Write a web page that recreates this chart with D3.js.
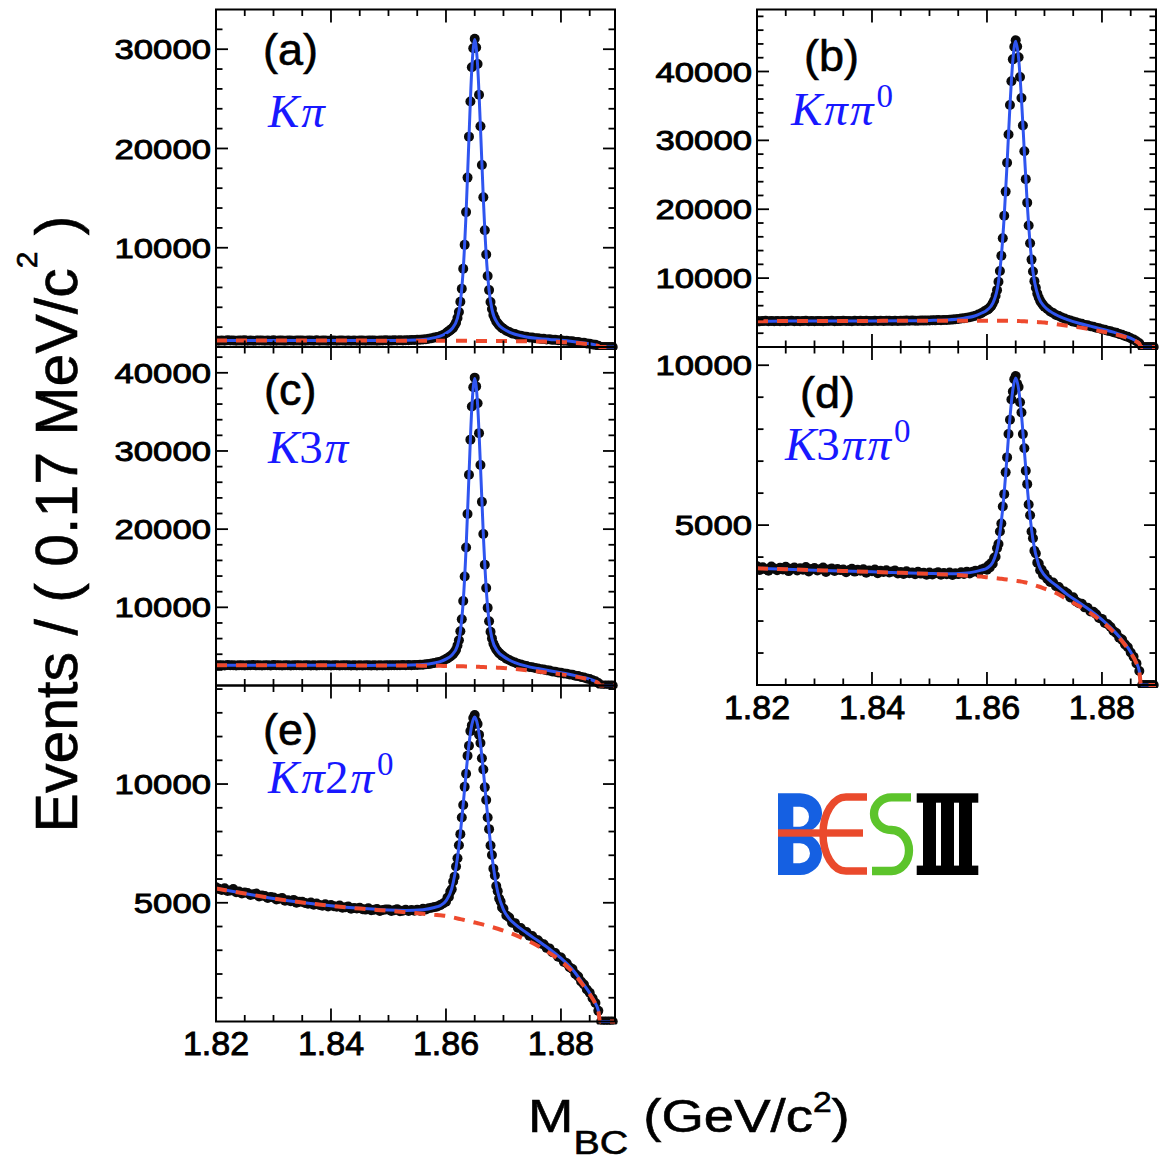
<!DOCTYPE html>
<html>
<head>
<meta charset="utf-8">
<script src="https://cdn.jsdelivr.net/npm/d3@7"></script>
<style>
  html, body { margin: 0; padding: 0; background: #fff; }
  svg { display: block; }
</style>
</head>
<body>
<svg id="chart" width="1167" height="1161"></svg>
<script>
// ---------------------------------------------------------------------------
// M_BC distributions of the five D0 tag modes with fit (signal + background)
// ---------------------------------------------------------------------------

// Histogram bin centres (GeV/c^2): coarse side bands, finer bins over the peak
const massSegments = [
  { start: 1.8200, step: 0.0005,  count: 80 },
  { start: 1.8600, step: 0.00025, count: 40 },
  { start: 1.8700, step: 0.0005,  count: 39 }
];
const mbcBins = massSegments.flatMap(s => d3.range(s.count).map(i => s.start + i * s.step));

// Points at which the fitted curves are tabulated
const fitMass = [1.8200, 1.8250, 1.8300, 1.8350, 1.8400, 1.8450, 1.8500, 1.8530, 1.8560, 1.8580,
  1.8590, 1.8600, 1.8610, 1.8620, 1.8625, 1.8630, 1.8635, 1.8640, 1.8645, 1.8650,
  1.8655, 1.8660, 1.8665, 1.8670, 1.8675, 1.8680, 1.8690, 1.8700, 1.8710, 1.8720,
  1.8740, 1.8760, 1.8780, 1.8800, 1.8820, 1.8840, 1.8850, 1.8860, 1.8865, 1.8868, 1.8894];

const decayModes = ["Kπ", "Kππ0", "K3π", "K3ππ0", "Kπ2π0"];
const panelTags = ["(a)", "(b)", "(c)", "(d)", "(e)"];

// ---- (a) K pi ----
const countsKpi = [
  662, 641, 655, 637, 668, 646, 651, 629, 660, 644,
  673, 639, 652, 630, 658, 647, 664, 636, 650, 642,
  671, 633, 654, 645, 628, 661, 648, 637, 667, 644,
  655, 631, 649, 658, 640, 669, 635, 652, 643, 627,
  659, 646, 638, 665, 650, 634, 657, 641, 662, 629,
  648, 655, 637, 664, 643, 652, 635, 660, 647, 671,
  656, 644, 668, 659, 677, 664, 690, 683, 702, 709,
  731, 738, 766, 793, 831, 874, 948, 1003, 1092, 1218,
  1391, 1486, 1602, 1679, 1825, 1951, 2190, 2455, 2930, 3531,
  4552, 5861, 7874, 10290, 13588, 17064, 21190, 24730, 28180, 30102,
  31050, 30175, 28510, 25410, 22230, 18340, 15080, 11760, 9321, 7150,
  5731, 4540, 3822, 3221, 2885, 2569, 2390, 2188, 2071, 1922,
  1842, 1633, 1519, 1371, 1301, 1189, 1144, 1052, 1028, 961,
  945, 884, 879, 821, 819, 768, 773, 721, 730, 677,
  689, 631, 628, 574, 567, 509, 495, 433, 417, 352,
  327, 258, 216, 121, 0, 0, 0, 0, 0];
const fitKpi = [650, 649, 648, 647, 645, 643, 655, 680, 756, 943,
  1087, 1389, 1812, 2905, 4510, 7810, 13502, 21064, 28046, 30967,
  28397, 22098, 14964, 9250, 5682, 3795, 2372, 1830, 1507, 1285,
  1015, 866, 760, 672, 555, 406, 318, 209, 127, 0, 0];
const bkgKpi = [650, 649, 648, 647, 645, 643, 640, 638, 635, 633,
  632, 630, 628, 626, 625, 623, 622, 620, 619, 617,
  615, 613, 611, 609, 607, 605, 600, 595, 590, 584,
  572, 556, 535, 505, 424, 324, 260, 173, 106, 0, 0];

// ---- (b) K pi pi0 ----
const countsKpipi0 = [
  3771, 3728, 3760, 3795, 3742, 3766, 3733, 3781, 3754, 3790,
  3738, 3769, 3802, 3747, 3776, 3731, 3765, 3798, 3752, 3784,
  3745, 3791, 3760, 3736, 3783, 3770, 3806, 3748, 3779, 3757,
  3801, 3763, 3788, 3749, 3812, 3772, 3795, 3758, 3820, 3781,
  3769, 3807, 3784, 3822, 3775, 3798, 3816, 3779, 3809, 3790,
  3826, 3797, 3833, 3808, 3841, 3819, 3829, 3852, 3834, 3861,
  3849, 3881, 3866, 3902, 3889, 3931, 3925, 3968, 3979, 4031,
  4058, 4129, 4177, 4262, 4309, 4423, 4530, 4716, 4890, 5145,
  5389, 5508, 5731, 5954, 6338, 6762, 7441, 8256, 9476, 11042,
  13250, 15780, 19060, 22560, 26760, 30850, 35140, 38590, 41760, 43590,
  44520, 43620, 42060, 39210, 36140, 32170, 28410, 24370, 20960, 17650,
  15060, 12690, 10970, 9561, 8592, 7752, 7198, 6701, 6389, 6085,
  5851, 5512, 5158, 4933, 4664, 4502, 4281, 4147, 3961, 3851,
  3688, 3594, 3437, 3361, 3211, 3142, 3008, 2935, 2791, 2719,
  2583, 2514, 2375, 2296, 2143, 2051, 1884, 1779, 1598, 1471,
  1269, 1102, 838, 531, 0, 0, 0, 0, 0];
const fitKpipi0 = [3750, 3760, 3770, 3780, 3790, 3812, 3863, 3937, 4185, 4541,
  4898, 5363, 6323, 9438, 13199, 18990, 26671, 35038, 41629, 44380,
  41941, 36027, 28317, 20883, 14999, 10926, 7185, 5868, 5173, 4680,
  3979, 3451, 3024, 2599, 2161, 1607, 1279, 845, 516, 0, 0];
const bkgKpipi0 = [3750, 3760, 3770, 3780, 3790, 3800, 3810, 3815, 3820, 3822,
  3822, 3820, 3818, 3815, 3812, 3810, 3805, 3800, 3790, 3780,
  3765, 3750, 3730, 3705, 3680, 3650, 3600, 3550, 3443, 3332,
  3098, 2846, 2569, 2258, 1898, 1449, 1162, 775, 474, 0, 0];

// ---- (c) K 3pi ----
const countsK3pi = [
  2601, 2575, 2592, 2568, 2610, 2583, 2597, 2571, 2589, 2604,
  2566, 2595, 2580, 2612, 2577, 2590, 2562, 2599, 2585, 2573,
  2608, 2581, 2594, 2567, 2588, 2602, 2570, 2591, 2579, 2606,
  2564, 2587, 2598, 2574, 2593, 2569, 2584, 2600, 2576, 2589,
  2565, 2596, 2580, 2571, 2603, 2578, 2586, 2563, 2592, 2574,
  2584, 2561, 2590, 2577, 2569, 2595, 2573, 2588, 2566, 2592,
  2575, 2593, 2579, 2600, 2586, 2607, 2594, 2618, 2603, 2632,
  2627, 2669, 2662, 2721, 2738, 2816, 2869, 2963, 3041, 3188,
  3381, 3462, 3618, 3715, 3880, 4027, 4291, 4583, 5110, 5788,
  6930, 8472, 10810, 13950, 17650, 21940, 26960, 31450, 35690, 38150,
  39380, 38260, 36100, 32280, 28200, 23490, 19380, 15440, 12470, 9930,
  8220, 6870, 6025, 5360, 4955, 4598, 4372, 4141, 3990, 3817,
  3715, 3441, 3270, 3066, 2951, 2787, 2702, 2561, 2496, 2378,
  2331, 2228, 2182, 2075, 2039, 1942, 1907, 1806, 1771, 1676,
  1641, 1548, 1510, 1414, 1366, 1255, 1203, 1091, 1025, 901,
  819, 671, 546, 318, 0, 0, 0, 0, 0];
const fitK3pi = [2590, 2588, 2585, 2582, 2578, 2572, 2580, 2599, 2676, 2875,
  3046, 3373, 3867, 5086, 6897, 10756, 17571, 26843, 35559, 39255,
  35981, 28087, 19290, 12403, 8183, 6001, 4360, 3702, 3258, 2934,
  2480, 2166, 1891, 1626, 1351, 1012, 807, 535, 327, 0, 0];
const bkgK3pi = [2590, 2588, 2585, 2582, 2578, 2572, 2565, 2555, 2540, 2525,
  2515, 2500, 2485, 2470, 2460, 2450, 2440, 2430, 2420, 2405,
  2392, 2380, 2365, 2350, 2335, 2320, 2285, 2250, 2182, 2112,
  1964, 1805, 1629, 1431, 1203, 918, 736, 491, 301, 0, 0];

// ---- (d) K 3pi pi0 ----
const countsK3pipi0 = [
  3712, 3598, 3681, 3623, 3574, 3702, 3640, 3589, 3668, 3611,
  3695, 3562, 3634, 3671, 3579, 3648, 3606, 3690, 3551, 3627,
  3655, 3583, 3618, 3672, 3537, 3609, 3640, 3568, 3626, 3593,
  3611, 3524, 3589, 3637, 3546, 3602, 3571, 3620, 3509, 3583,
  3556, 3612, 3498, 3570, 3533, 3591, 3517, 3546, 3579, 3489,
  3532, 3475, 3556, 3498, 3521, 3462, 3539, 3483, 3507, 3451,
  3519, 3457, 3493, 3526, 3448, 3501, 3462, 3515, 3439, 3497,
  3468, 3523, 3471, 3545, 3490, 3538, 3572, 3521, 3613, 3640,
  3608, 3734, 3679, 3812, 3791, 3968, 4012, 4277, 4409, 4801,
  5052, 5581, 5968, 6650, 7118, 7852, 8296, 8930, 9178, 9560,
  9662, 9420, 9318, 8840, 8521, 7846, 7402, 6701, 6281, 5644,
  5311, 4798, 4590, 4198, 4112, 3826, 3801, 3589, 3613, 3441,
  3478, 3318, 3221, 3208, 3091, 3064, 2948, 2921, 2859, 2738,
  2744, 2611, 2559, 2540, 2428, 2418, 2302, 2289, 2211, 2097,
  2067, 1938, 1902, 1812, 1689, 1623, 1478, 1420, 1271, 1182,
  1019, 884, 676, 437, 0, 0, 0, 0, 0];
const fitK3pipi0 = [3650, 3620, 3592, 3565, 3538, 3511, 3486, 3477, 3497, 3546,
  3591, 3652, 3834, 4448, 5120, 6018, 7176, 8359, 9234, 9600,
  9255, 8450, 7340, 6213, 5255, 4535, 3754, 3433, 3257, 3120,
  2827, 2580, 2331, 2042, 1708, 1290, 1031, 693, 428, 0, 0];
const bkgK3pipi0 = [3650, 3620, 3592, 3565, 3538, 3508, 3475, 3452, 3425, 3405,
  3390, 3370, 3352, 3332, 3321, 3310, 3298, 3286, 3273, 3260,
  3246, 3232, 3215, 3195, 3170, 3140, 3080, 3015, 2950, 2880,
  2670, 2470, 2250, 1980, 1660, 1260, 1010, 680, 420, 0, 0];

// ---- (e) K pi 2pi0 ----
const countsKpi2pi0 = [
  5652, 5588, 5541, 5612, 5498, 5521, 5583, 5446, 5470, 5392,
  5437, 5412, 5329, 5358, 5391, 5262, 5301, 5285, 5203, 5244,
  5226, 5141, 5172, 5198, 5089, 5110, 5068, 5121, 4998, 5041,
  5046, 4987, 4962, 5009, 4921, 4968, 4903, 4876, 4935, 4842,
  4903, 4851, 4829, 4880, 4792, 4811, 4838, 4745, 4782, 4760,
  4787, 4731, 4712, 4766, 4683, 4709, 4738, 4655, 4692, 4714,
  4721, 4652, 4688, 4731, 4640, 4662, 4709, 4651, 4698, 4662,
  4711, 4669, 4744, 4718, 4772, 4791, 4818, 4842, 4901, 4968,
  5042, 5213, 5241, 5468, 5571, 5896, 6101, 6530, 6874, 7421,
  7890, 8592, 9120, 9881, 10430, 11190, 11610, 12230, 12470, 12780,
  12905, 12640, 12530, 12080, 11730, 11090, 10610, 9860, 9330, 8590,
  8101, 7412, 7010, 6438, 6145, 5708, 5490, 5183, 5052, 4806,
  4752, 4468, 4381, 4163, 4142, 3952, 3938, 3785, 3771, 3612,
  3598, 3452, 3421, 3286, 3248, 3102, 3079, 2921, 2887, 2732,
  2694, 2511, 2456, 2281, 2209, 2004, 1897, 1683, 1561, 1349,
  1210, 978, 781, 448, 0, 0, 0, 0, 0];
const fitKpi2pi0 = [5600, 5390, 5180, 5012, 4873, 4766, 4693, 4678, 4711, 4803,
  4879, 5081, 5593, 6901, 7924, 9156, 10480, 11664, 12501, 12820,
  12486, 11688, 10562, 9284, 8044, 6967, 5455, 4713, 4335, 4103,
  3735, 3397, 3051, 2665, 2187, 1540, 1194, 767, 456, 0, 0];
const bkgKpi2pi0 = [5600, 5390, 5180, 5010, 4870, 4755, 4660, 4600, 4540, 4500,
  4475, 4450, 4395, 4340, 4312, 4284, 4256, 4228, 4199, 4170,
  4140, 4110, 4078, 4046, 4012, 3978, 3905, 3826, 3740, 3645,
  3430, 3180, 2890, 2540, 2090, 1480, 1150, 740, 440, 0, 0];

// Axis tick labels
const yLabelsKpi = [10000, 20000, 30000];
const yLabelsKpipi0 = [10000, 20000, 30000, 40000];
const yLabelsK3pi = [10000, 20000, 30000, 40000];
const yLabelsK3pipi0 = [5000, 10000];
const yLabelsKpi2pi0 = [5000, 10000];
const xLabels = [1.82, 1.84, 1.86, 1.88];
const massRange = [1.82, 1.8894];

// ---------------------------------------------------------------------------
// Layout
// ---------------------------------------------------------------------------
const SANS = "'Liberation Sans', Arial, Helvetica, sans-serif";
const SERIF = "'Liberation Serif', 'Times New Roman', serif";
const BLUE_FIT = "#2f55f0";
const RED_BKG = "#ee4a2e";
const MODE_BLUE = "#1818ff";

const columns = [{ x0: 216, x1: 615 }, { x0: 757, x1: 1156 }];

const panels = [
  { col: 0, y0: 9.5, y1: 347, yMax: 34000, major: 10000, minor: 2000, xAxisLabels: false,
    counts: countsKpi, fit: fitKpi, bkg: bkgKpi, yLabels: yLabelsKpi,
    tagPos: [263, 65], modePos: [268, 127] },
  { col: 1, y0: 9.5, y1: 347, yMax: 49000, major: 10000, minor: 2000, xAxisLabels: false,
    counts: countsKpipi0, fit: fitKpipi0, bkg: bkgKpipi0, yLabels: yLabelsKpipi0,
    tagPos: [804, 71], modePos: [791, 125] },
  { col: 0, y0: 347, y1: 685.5, yMax: 43300, major: 10000, minor: 2000, xAxisLabels: false,
    counts: countsK3pi, fit: fitK3pi, bkg: bkgK3pi, yLabels: yLabelsK3pi,
    tagPos: [264, 405], modePos: [268, 463] },
  { col: 1, y0: 347, y1: 685, yMax: 10570, major: 5000, minor: 1000, xAxisLabels: true,
    counts: countsK3pipi0, fit: fitK3pipi0, bkg: bkgK3pipi0, yLabels: yLabelsK3pipi0,
    tagPos: [800, 408], modePos: [785, 460] },
  { col: 0, y0: 685.5, y1: 1021.5, yMax: 14150, major: 5000, minor: 1000, xAxisLabels: true,
    counts: countsKpi2pi0, fit: fitKpi2pi0, bkg: bkgKpi2pi0, yLabels: yLabelsKpi2pi0,
    tagPos: [263, 745], modePos: [268, 793] }
];

const svg = d3.select("#chart");
svg.append("rect").attr("width", 1167).attr("height", 1161).attr("fill", "#fff");
const defs = svg.append("defs");

const xMajor = xLabels;
const xMinor = d3.range(1.825, 1.8894, 0.005).filter(v => !xMajor.some(m => Math.abs(m - v) < 1e-6));

// Decay mode label: letters in italic, digits upright, trailing pi0 charge as superscript
function modeLabel(g, x, y, text) {
  const t = g.append("text")
    .attr("x", x).attr("y", y)
    .attr("fill", MODE_BLUE)
    .style("font-family", SERIF)
    .style("font-size", "47px");
  const chars = [...text];
  chars.forEach((ch, i) => {
    const isDigit = /\d/.test(ch);
    const isSup = isDigit && i === chars.length - 1 && chars[i - 1] === "π";
    const ts = t.append("tspan").text(ch);
    if (!isDigit) ts.style("font-style", "italic");
    if (ch === "π") ts.attr("dx", 2);
    if (isSup) ts.attr("dy", -18).attr("dx", 3).style("font-size", "33px");
  });
}

panels.forEach((p, idx) => {
  const col = columns[p.col];
  const x = d3.scaleLinear().domain(massRange).range([col.x0, col.x1]);
  const y = d3.scaleLinear().domain([0, p.yMax]).range([p.y1, p.y0]);
  const g = svg.append("g").attr("class", "panel");

  const clipId = "clip-" + idx;
  defs.append("clipPath").attr("id", clipId)
    .append("rect")
    .attr("x", col.x0).attr("y", p.y0)
    .attr("width", col.x1 - col.x0 + 4).attr("height", p.y1 - p.y0 + 3);

  const plot = g.append("g").attr("clip-path", `url(#${clipId})`);

  // data points
  plot.append("g").selectAll("circle")
    .data(p.counts)
    .join("circle")
    .attr("cx", (d, i) => x(mbcBins[i]))
    .attr("cy", d => y(d))
    .attr("r", 5)
    .attr("fill", "#0a0a0a");

  const line = d3.line()
    .x((d, i) => x(fitMass[i]))
    .y(d => y(d))
    .curve(d3.curveMonotoneX);

  // total fit
  plot.append("path").datum(p.fit)
    .attr("d", line)
    .attr("fill", "none")
    .attr("stroke", BLUE_FIT)
    .attr("stroke-width", 3);

  // background component
  plot.append("path").datum(p.bkg)
    .attr("d", line)
    .attr("fill", "none")
    .attr("stroke", RED_BKG)
    .attr("stroke-width", 4)
    .attr("stroke-dasharray", "11 9");

  // frame
  g.append("rect")
    .attr("x", col.x0).attr("y", p.y0)
    .attr("width", col.x1 - col.x0).attr("height", p.y1 - p.y0)
    .attr("fill", "none").attr("stroke", "#000").attr("stroke-width", 2);

  const ticks = g.append("g").attr("stroke", "#000").attr("stroke-width", 1.8);

  // y ticks on both sides
  const yMajor = d3.range(p.major, p.yMax, p.major);
  const yMinor = d3.range(p.minor, p.yMax, p.minor).filter(v => v % p.major !== 0);
  [[yMajor, 12], [yMinor, 6.5]].forEach(([vals, len]) => {
    vals.forEach(v => {
      ticks.append("line").attr("x1", col.x0).attr("x2", col.x0 + len).attr("y1", y(v)).attr("y2", y(v));
      ticks.append("line").attr("x1", col.x1).attr("x2", col.x1 - len).attr("y1", y(v)).attr("y2", y(v));
    });
  });

  // x ticks on top and bottom
  [[xMajor, 13], [xMinor, 6.5]].forEach(([vals, len]) => {
    vals.forEach(v => {
      ticks.append("line").attr("x1", x(v)).attr("x2", x(v)).attr("y1", p.y1).attr("y2", p.y1 - len);
      ticks.append("line").attr("x1", x(v)).attr("x2", x(v)).attr("y1", p.y0).attr("y2", p.y0 + len);
    });
  });

  // y tick labels
  p.yLabels.forEach(v => {
    g.append("g")
      .attr("transform", `translate(${col.x0 - 5},${y(v)}) scale(1.24,1)`)
      .append("text")
      .attr("text-anchor", "end")
      .attr("dy", "0.36em")
      .style("font-family", SANS)
      .style("font-size", "28px")
      .attr("fill", "#000").attr("stroke", "#000").attr("stroke-width", 0.9)
      .text(d3.format("d")(v));
  });

  // x tick labels on the lowest panel of each column
  if (p.xAxisLabels) {
    xLabels.forEach(v => {
      g.append("text")
        .attr("x", x(v)).attr("y", p.y1 + 33.5)
        .attr("text-anchor", "middle")
        .style("font-family", SANS)
        .style("font-size", "34px")
        .attr("fill", "#000").attr("stroke", "#000").attr("stroke-width", 0.9)
        .text(d3.format(".2f")(v));
    });
  }

  // panel tag and decay mode
  g.append("text")
    .attr("x", p.tagPos[0]).attr("y", p.tagPos[1])
    .style("font-family", SANS)
    .style("font-size", "45px")
    .attr("fill", "#000").attr("stroke", "#000").attr("stroke-width", 0.6)
    .text(panelTags[idx]);
  modeLabel(g, p.modePos[0], p.modePos[1], decayModes[idx]);
});

// ---------------------------------------------------------------------------
// Axis titles
// ---------------------------------------------------------------------------
const yTitle = svg.append("text")
  .attr("transform", "translate(77,524) rotate(-90)")
  .attr("text-anchor", "middle")
  .style("font-family", SANS)
  .style("font-size", "59px")
  .attr("fill", "#000").attr("stroke", "#000").attr("stroke-width", 0.6);
yTitle.append("tspan").text("Events / ( 0.17 MeV/c");
yTitle.append("tspan").attr("dy", -40).style("font-size", "30px").text("2");
yTitle.append("tspan").attr("dy", 40).text(" )");

const xTitle = svg.append("g")
  .attr("transform", "translate(528,1132) scale(1.16,1)")
  .append("text")
  .style("font-family", SANS)
  .style("font-size", "47px")
  .attr("fill", "#000").attr("stroke", "#000").attr("stroke-width", 0.6);
xTitle.append("tspan").text("M");
xTitle.append("tspan").attr("dy", 22).style("font-size", "34px").text("BC");
xTitle.append("tspan").attr("dy", -22).text(" (GeV/c");
xTitle.append("tspan").attr("dy", -20).style("font-size", "29px").text("2");
xTitle.append("tspan").attr("dy", 20).text(")");

// ---------------------------------------------------------------------------
// BESIII logo
// ---------------------------------------------------------------------------
const logo = svg.append("g").attr("class", "bes-logo");
// B
logo.append("path")
  .attr("fill", "#1560e2")
  .attr("fill-rule", "evenodd")
  .attr("d",
    "M778,793.3 H800 A22,19.8 0 0 1 800,833 A22,21 0 0 1 800,875 H778 Z " +
    "M793.3,806.7 H800 A9,10 0 0 1 800,826.7 H793.3 Z " +
    "M793.3,843.3 H800 A10,10 0 0 1 800,863.3 H793.3 Z");
// E with the bar running through the B
logo.append("path")
  .attr("fill", "none")
  .attr("stroke", "#ea4a2c")
  .attr("stroke-width", 7.5)
  .attr("d", "M867,797 H846 A23,37 0 0 0 846,871 H867");
logo.append("rect")
  .attr("x", 778).attr("y", 829.3).attr("width", 85).attr("height", 7.4)
  .attr("fill", "#ea4a2c");
// S
logo.append("path")
  .attr("fill", "none")
  .attr("stroke", "#5cc42b")
  .attr("stroke-width", 8.3)
  .attr("d", "M911,797.4 H891.5 A17.5,16.3 0 0 0 891.5,830 A17.5,20.5 0 0 1 891.5,871 H872");
// III
const roman = logo.append("g").attr("fill", "#000");
roman.append("rect").attr("x", 916.7).attr("y", 793.3).attr("width", 61.6).attr("height", 9.4);
roman.append("rect").attr("x", 916.7).attr("y", 865.6).attr("width", 61.6).attr("height", 9.4);
[923, 941, 959].forEach(x0 => {
  roman.append("rect").attr("x", x0).attr("y", 800).attr("width", 13).attr("height", 68);
});
</script>
</body>
</html>
